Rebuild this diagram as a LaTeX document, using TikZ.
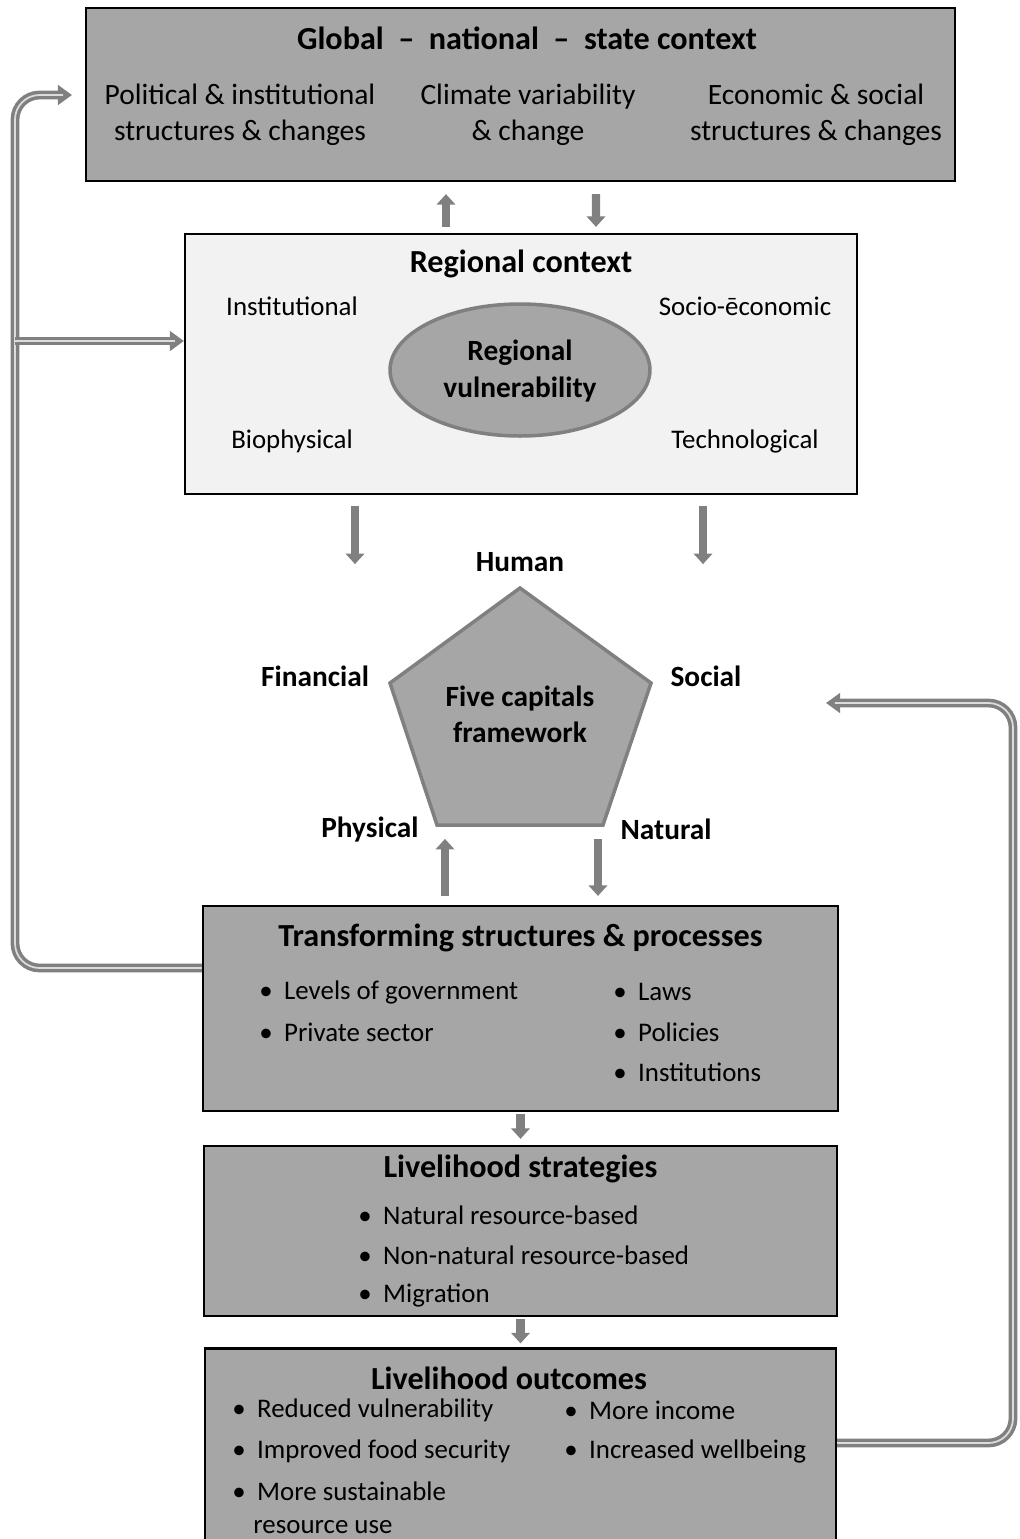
\documentclass[tikz,border=0pt]{standalone}
\usepackage{fontspec}
\setmainfont{Carlito}
\usetikzlibrary{shapes, arrows.meta, calc, positioning}
\definecolor{boxgrey}{HTML}{A6A6A6}
\definecolor{palegrey}{HTML}{F2F2F2}
\definecolor{arrowgrey}{HTML}{808080}
\definecolor{streakgrey}{HTML}{DCDCDC}
\tikzset{frame/.style={draw=black, line width=1.3pt, fill=boxgrey, inner sep=0pt}}
\tikzset{head/.style={font=\bfseries\fontsize{18.3}{21}\selectfont, align=center}}
\tikzset{label/.style={font=\bfseries\fontsize{16.7}{20.5}\selectfont, align=center}}
\tikzset{body/.style={font=\fontsize{15.3}{20.5}\selectfont, align=center}}
\tikzset{topbody/.style={font=\fontsize{16.8}{20.5}\selectfont, align=center}}
\tikzset{item/.style={font=\fontsize{15.3}{18.8}\selectfont, anchor=west, inner sep=0pt}}
\tikzset{blockarrow/.style={draw=arrowgrey, line width=4.6pt, -{Triangle[length=6pt, width=10.5pt]}}}
\tikzset{feedback/.style={draw=arrowgrey, line width=5pt, rounded corners=14pt,
    -{Triangle[length=8pt, width=11pt]},
    postaction={draw=streakgrey, line width=1pt, -, shorten >=5pt}}}

\begin{document}
\begin{tikzpicture}[x=0.02cm, y=-0.02cm]
        \useasboundingbox (0,0) rectangle (1019,1539);

        \node[frame, minimum width=17.38cm, minimum height=3.46cm] (Global) at (520.5, 94.5) {};
        \node[head] (GlobalT) at (527, 38) {Global ~–~ national ~–~ state context};
        \node[topbody] (Pol) at (240, 115) {Political \& institutional\\structures \& changes};
        \node[topbody] (Clim) at (528, 115) {Climate variability\\\& change};
        \node[topbody] (Econ) at (816, 115) {Economic \& social\\structures \& changes};

        \node[frame, fill=palegrey, minimum width=13.44cm, minimum height=5.2cm] (Reg) at (521, 364) {};
        \node[head] (RegT) at (521, 264) {Regional context};
        \node[body] (Inst) at (292, 306) {Institutional};
        \node[body] (Socio) at (745, 306) {Socio-ēconomic};
        \node[body] (Bio) at (292, 441) {Biophysical};
        \node[body] (Tech) at (745, 441) {Technological};
        \node[draw=arrowgrey, line width=2pt, fill=boxgrey, ellipse, minimum width=5.2cm, minimum height=2.64cm, inner sep=0pt] (Vul) at (520, 370) {};
        \node[label] (VulT) at (520, 371) {Regional\\vulnerability};

        \coordinate (P1) at (520, 588);
        \coordinate (P2) at (651, 683);
        \coordinate (P3) at (603, 825);
        \coordinate (P4) at (437, 825);
        \coordinate (P5) at (390, 683);
        \draw[draw=arrowgrey, line width=2pt, fill=boxgrey, line join=miter] (P1) -- (P2) -- (P3) -- (P4) -- (P5) -- cycle;
        \node[label] (Five) at (520, 714) {Five capitals\\framework};
        \node[label] (Human) at (520, 562) {Human};
        \node[label] (Fin) at (315, 676) {Financial};
        \node[label] (Soc) at (706, 676) {Social};
        \node[label] (Phys) at (370, 829) {Physical};
        \node[label] (Nat) at (666, 829) {Natural};

        \node[frame, minimum width=12.7cm, minimum height=4.1cm] (Trans) at (520.5, 1008.5) {};
        \node[head] (TransT) at (520.5, 938) {Transforming structures \& processes};
        \node[item] (T1) at (259, 992) {•\hspace{6.5pt}Levels of government};
        \node[item] (T2) at (259, 1032) {•\hspace{6.5pt}Private sector};
        \node[item] (T3) at (613, 992) {•\hspace{6.5pt}Laws};
        \node[item] (T4) at (613, 1032) {•\hspace{6.5pt}Policies};
        \node[item] (T5) at (613, 1072) {•\hspace{6.5pt}Institutions};

        \node[frame, minimum width=12.66cm, minimum height=3.4cm] (Strat) at (520.5, 1231) {};
        \node[head] (StratT) at (520.5, 1169) {Livelihood strategies};
        \node[item] (S1) at (358, 1215) {•\hspace{6.5pt}Natural resource-based};
        \node[item] (S2) at (358, 1255) {•\hspace{6.5pt}Non-natural resource-based};
        \node[item] (S3) at (358, 1295) {•\hspace{6.5pt}Migration};

        \node[frame, minimum width=12.62cm, minimum height=3.98cm] (Out) at (520.5, 1448) {};
        \node[head] (OutT) at (509, 1378) {Livelihood outcomes};
        \node[item] (O1) at (232, 1410) {•\hspace{6.5pt}Reduced vulnerability};
        \node[item] (O2) at (232, 1451) {•\hspace{6.5pt}Improved food security};
        \node[item, align=left] (O3) at (232, 1508) {•\hspace{6.5pt}More sustainable\\\hspace{12pt}resource use};
        \node[item] (O4) at (564, 1410) {•\hspace{6.5pt}More income};
        \node[item] (O5) at (564, 1451) {•\hspace{6.5pt}Increased wellbeing};

        \draw [blockarrow] ($(Reg.north)+(-75,-6)$) -- ($(Global.south)+(-74.5,12)$);
        \draw [blockarrow] ($(Global.south)+(75.5,12)$) -- ($(Reg.north)+(75,-6)$);
        \draw [blockarrow] ($(Reg.south)+(-166,11)$) -- ($(Reg.south)+(-166,69)$);
        \draw [blockarrow] ($(Reg.south)+(182,11)$) -- ($(Reg.south)+(182,69)$);
        \draw [blockarrow] ($(Trans.north)+(-75.5,-9)$) -- ($(Trans.north)+(-75.5,-66)$);
        \draw [blockarrow] ($(Trans.north)+(77.5,-66)$) -- ($(Trans.north)+(77.5,-9)$);
        \draw [blockarrow] ($(Trans.south)+(0,2)$) -- ($(Strat.north)+(0,-6)$);
        \draw [blockarrow] ($(Strat.south)+(0,2)$) -- ($(Out.north)+(0,-4)$);

        \coordinate (LoopL) at (15, 968);
        \coordinate (LoopTop) at (15, 95);
        \coordinate (GlobIn) at (72, 95);
        \coordinate (Branch) at (15, 341);
        \coordinate (LoopR) at (1013, 1443);
        \coordinate (LoopRTop) at (1013, 703);
        \coordinate (SocIn) at (826, 703);

        \draw [feedback] (Trans.west |- LoopL) -- (LoopL) -- (LoopTop) -- (GlobIn);
        \draw [feedback] (Branch) -- (Reg.west |- Branch);
        \draw [feedback] (Out.east |- LoopR) -- (LoopR) -- (LoopRTop) -- (SocIn);
    \end{tikzpicture}
\end{document}
